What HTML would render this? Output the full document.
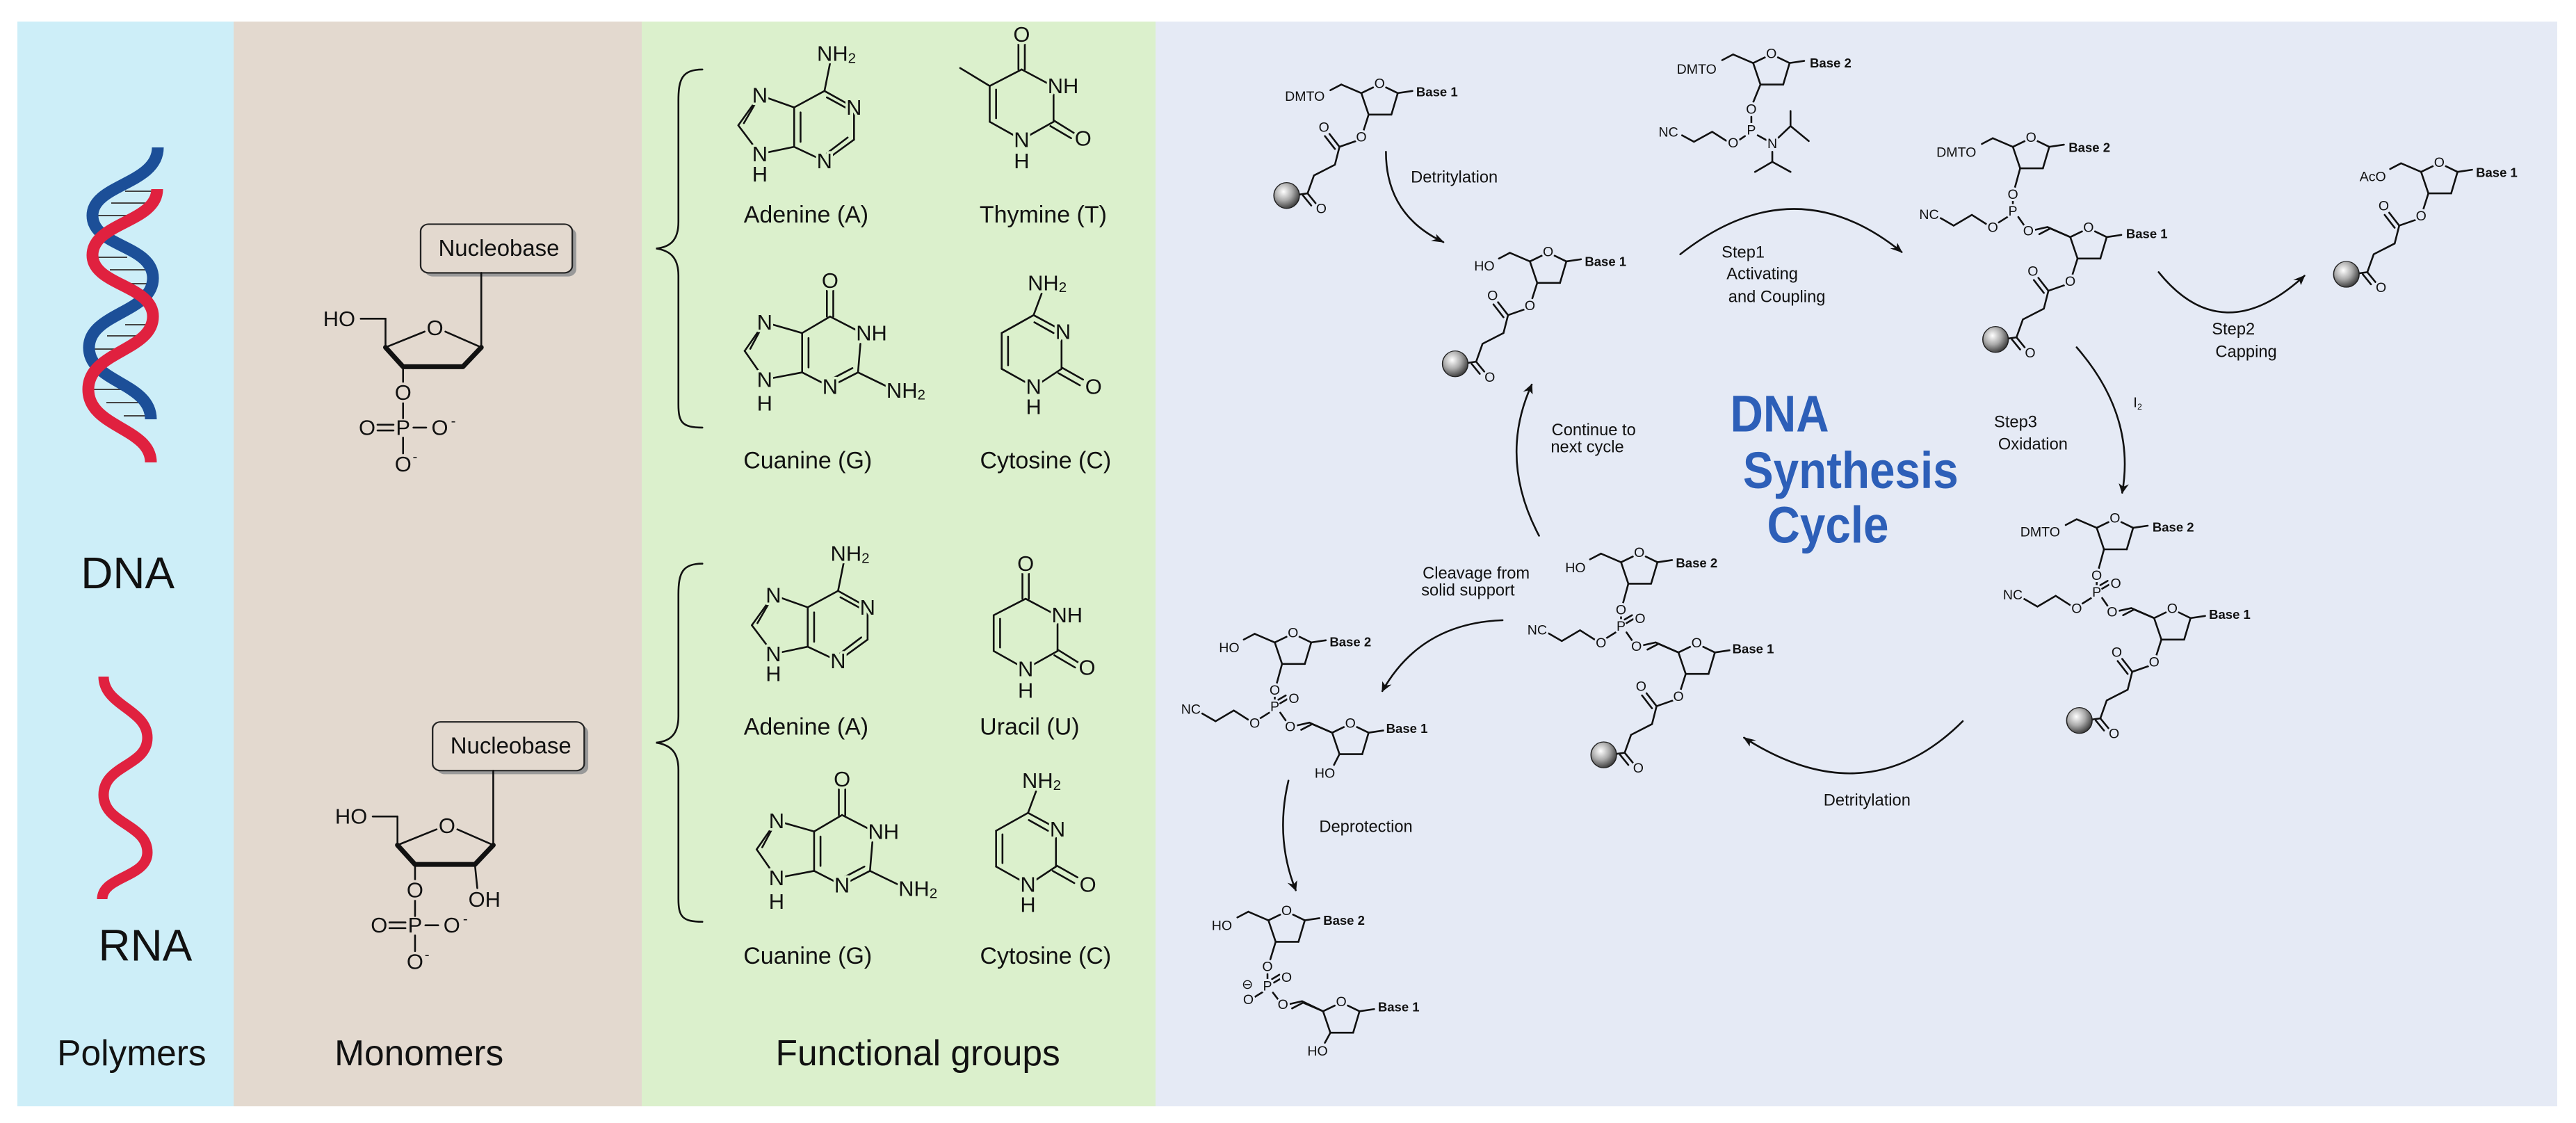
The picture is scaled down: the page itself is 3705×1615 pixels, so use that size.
<!DOCTYPE html>
<html><head><meta charset="utf-8"><style>
html,body{margin:0;padding:0;background:#fff;}
svg{display:block;}
.b line,.b path,.b polyline{stroke:#111;fill:none;vector-effect:non-scaling-stroke;stroke-width:2.6;stroke-linecap:round;}
text{font-family:"Liberation Sans",sans-serif;fill:#111;dominant-baseline:central;text-anchor:middle;}
.L{transform-box:fill-box;transform-origin:center;transform:scaleX(.897);}
.R{transform-box:fill-box;transform-origin:center;transform:scaleX(.786);}
.T{transform-box:fill-box;transform-origin:center;transform:scaleX(.695);}
.hg{paint-order:stroke;stroke:#dbf0cc;stroke-width:7;stroke-linejoin:round;}
.ht{paint-order:stroke;stroke:#e3d9cf;stroke-width:7;stroke-linejoin:round;}
.hr{paint-order:stroke;stroke:#e5eaf5;stroke-width:6;stroke-linejoin:round;}
.bb{font-weight:bold;}
</style></head><body>
<svg width="3705" height="1615" viewBox="0 0 3705 1615" xmlns="http://www.w3.org/2000/svg">
<defs>
<radialGradient id="bead" cx="0.38" cy="0.35" r="0.7"><stop offset="0" stop-color="#fff"/><stop offset="0.5" stop-color="#aaa"/><stop offset="1" stop-color="#333"/></radialGradient>
<marker id="ah" viewBox="0 0 10 10" refX="9" refY="5" markerWidth="14" markerHeight="14" markerUnits="userSpaceOnUse" orient="auto"><path d="M0 1 L10 5 L0 9 L3 5 Z" fill="#111"/></marker>
</defs>
<rect x="25" y="31" width="311" height="1560" fill="#cdeef8"/>
<rect x="336" y="31" width="587" height="1560" fill="#e3d9cf"/>
<rect x="923" y="31" width="739" height="1560" fill="#dbf0cc"/>
<rect x="1662" y="31" width="2016" height="1560" fill="#e5eaf5"/>

<!-- DNA helix -->
<g stroke="#444" stroke-width="2">
<line x1="180" y1="275" x2="224" y2="275"/><line x1="160" y1="292" x2="210" y2="292"/><line x1="138" y1="310" x2="190" y2="310"/>
<line x1="137" y1="370" x2="183" y2="370"/><line x1="158" y1="388" x2="210" y2="388"/><line x1="180" y1="408" x2="220" y2="408"/>
<line x1="180" y1="467" x2="219" y2="467"/><line x1="154" y1="483" x2="207" y2="483"/><line x1="133" y1="502" x2="185" y2="502"/>
<line x1="133" y1="560" x2="181" y2="560"/><line x1="153" y1="579" x2="203" y2="579"/><line x1="178" y1="598" x2="217" y2="598"/>
</g>
<path d="M227 212 C227 265,133 265,133 310 C133 355,220 352,220 400 C220 450,128 450,128 500 C128 550,217 550,217 603" stroke="#1c4f98" stroke-width="17" fill="none"/>
<path d="M226 272 C226 320,133 320,133 367 C133 410,220 410,220 455 C220 505,127 505,127 560 C127 615,217 615,217 665" stroke="#e0213f" stroke-width="17" fill="none"/>
<path d="M149 973 C149 1015,212 1020,212 1061 C212 1102,149 1100,149 1143 C149 1185,212 1185,212 1226 C212 1262,147 1260,147 1293" stroke="#e0213f" stroke-width="15" fill="none"/>

<!-- LEFT PANELS -->
<svg x="0" y="0" width="1800" height="1615" viewBox="0 0 1568 1568" preserveAspectRatio="none" class="b">
<text class="L" x="160" y="800" font-size="62">DNA</text>
<text class="L" x="182" y="1320" font-size="62">RNA</text>
<text class="L" x="165" y="1470" font-size="50">Polymers</text>
<text class="L" x="525" y="1470" font-size="50">Monomers</text>
<text class="L" x="1150" y="1470" font-size="50">Functional groups</text>

<g id="mono">
<rect x="532" y="318" width="190" height="68" rx="10" fill="#999"/>
<rect x="527" y="313" width="190" height="68" rx="10" fill="#e3d9cf" stroke="#222" stroke-width="2"/>
<line x1="452" y1="445" x2="483" y2="445"/><line x1="483" y1="445" x2="483" y2="485"/>
<line x1="483" y1="485" x2="532" y2="463"/><line x1="558" y1="463" x2="603" y2="485"/>
<line x1="603" y1="485" x2="603" y2="381"/>
<path d="M483 485 L505 512 L580 512 L603 485" style="stroke-width:7;stroke-linejoin:round"/>
<line x1="505" y1="514" x2="505" y2="535"/><line x1="505" y1="561" x2="505" y2="584"/>
<line x1="473" y1="593" x2="493" y2="593"/><line x1="473" y1="601" x2="493" y2="601"/>
<line x1="518" y1="597" x2="534" y2="597"/>
<line x1="505" y1="611" x2="505" y2="633"/>
<text class="L" x="625" y="346" font-size="32">Nucleobase</text>
<text class="L ht" x="425" y="445" font-size="30">HO</text>
<text class="L ht" x="545" y="458" font-size="30">O</text>
<text class="L ht" x="505" y="548" font-size="30">O</text>
<text class="L" x="460" y="597" font-size="30">O</text>
<text class="L" x="505" y="597" font-size="30">P</text>
<text class="L" x="551" y="597" font-size="30">O</text>
<text class="L" x="568" y="588" font-size="20">-</text>
<text class="L" x="505" y="648" font-size="30">O</text>
<text class="L" x="520" y="638" font-size="20">-</text>
</g>
<use href="#mono" x="15" y="695"/>
<line x1="595" y1="1207" x2="598" y2="1240"/>
<text class="L ht" x="607" y="1256" font-size="30">OH</text>

<path d="M880 97 C855 97,850 110,850 140 L850 310 C850 335,840 345,822 347 C840 350,850 360,850 385 L850 565 C850 590,855 597,880 597"/>
<path d="M880 787 C855 787,850 800,850 830 L850 1000 C850 1025,840 1035,822 1037 C840 1040,850 1050,850 1075 L850 1255 C850 1280,855 1287,880 1287"/>

<g id="ade">
<line x1="952" y1="133" x2="925" y2="175"/><line x1="946" y1="145" x2="932" y2="172"/>
<line x1="925" y1="175" x2="952" y2="215"/><line x1="952" y1="215" x2="995" y2="205"/>
<line x1="995" y1="205" x2="995" y2="150"/><line x1="1003" y1="198" x2="1003" y2="157"/>
<line x1="995" y1="150" x2="952" y2="133"/><line x1="995" y1="150" x2="1033" y2="127"/>
<line x1="1033" y1="127" x2="1040" y2="88"/>
<line x1="1033" y1="127" x2="1070" y2="150"/><line x1="1036" y1="136" x2="1064" y2="153"/>
<line x1="1070" y1="150" x2="1070" y2="195"/>
<line x1="1070" y1="195" x2="1033" y2="225"/><line x1="1062" y1="192" x2="1036" y2="214"/>
<line x1="1033" y1="225" x2="995" y2="205"/>
<text class="L hg" x="1048" y="75" font-size="30">NH<tspan font-size="20" dy="6">2</tspan></text>
<text class="L hg" x="952" y="133" font-size="30">N</text>
<text class="L hg" x="952" y="215" font-size="30">N</text>
<text class="L hg" x="952" y="243" font-size="30">H</text>
<text class="L hg" x="1070" y="150" font-size="30">N</text>
<text class="L hg" x="1033" y="225" font-size="30">N</text>
</g>
<use href="#ade" x="17" y="698"/>
<text class="L" x="1010" y="300" font-size="33">Adenine (A)</text>
<text class="L" x="1010" y="1015" font-size="33">Adenine (A)</text>

<g id="gua">
<line x1="958" y1="450" x2="933" y2="490"/><line x1="952" y1="462" x2="940" y2="487"/>
<line x1="933" y1="490" x2="958" y2="530"/><line x1="958" y1="530" x2="1005" y2="520"/>
<line x1="1005" y1="520" x2="1005" y2="465"/><line x1="1013" y1="513" x2="1013" y2="472"/>
<line x1="1005" y1="465" x2="958" y2="450"/><line x1="1005" y1="465" x2="1040" y2="442"/>
<line x1="1036" y1="442" x2="1036" y2="405"/><line x1="1044" y1="442" x2="1044" y2="405"/>
<line x1="1040" y1="442" x2="1080" y2="465"/>
<line x1="1078" y1="480" x2="1075" y2="520"/>
<line x1="1075" y1="520" x2="1040" y2="540"/><line x1="1068" y1="514" x2="1044" y2="528"/>
<line x1="1040" y1="540" x2="1005" y2="520"/>
<line x1="1075" y1="520" x2="1112" y2="540"/>
<text class="L hg" x="1040" y="392" font-size="30">O</text>
<text class="L hg" x="958" y="450" font-size="30">N</text>
<text class="L hg" x="958" y="530" font-size="30">N</text>
<text class="L hg" x="958" y="563" font-size="30">H</text>
<text class="L hg" x="1092" y="465" font-size="30">NH</text>
<text class="L hg" x="1040" y="540" font-size="30">N</text>
<text class="L hg" x="1135" y="545" font-size="30">NH<tspan font-size="20" dy="6">2</tspan></text>
</g>
<use href="#gua" x="15" y="696"/>
<text class="L" x="1012" y="643" font-size="33">Cuanine (G)</text>
<text class="L" x="1012" y="1335" font-size="33">Cuanine (G)</text>

<g id="pyr">
<line x1="1276" y1="97" x2="1276" y2="62"/><line x1="1284" y1="97" x2="1284" y2="62"/>
<line x1="1280" y1="97" x2="1312" y2="116"/>
<line x1="1320" y1="132" x2="1320" y2="170"/>
<line x1="1320" y1="168" x2="1346" y2="186"/><line x1="1316" y1="176" x2="1342" y2="193"/>
<line x1="1320" y1="170" x2="1288" y2="190"/>
<line x1="1272" y1="190" x2="1240" y2="170"/>
<line x1="1240" y1="170" x2="1240" y2="120"/><line x1="1248" y1="165" x2="1248" y2="125"/>
<line x1="1240" y1="120" x2="1280" y2="97"/>
<text class="L hg" x="1280" y="48" font-size="30">O</text>
<text class="L hg" x="1332" y="120" font-size="30">NH</text>
<text class="L hg" x="1357" y="193" font-size="30">O</text>
<text class="L hg" x="1280" y="195" font-size="30">N</text>
<text class="L hg" x="1280" y="225" font-size="30">H</text>
</g>
<line x1="1240" y1="120" x2="1203" y2="95"/>
<use href="#pyr" x="5" y="739"/>
<text class="L" x="1307" y="300" font-size="33">Thymine (T)</text>
<text class="L" x="1290" y="1015" font-size="33">Uracil (U)</text>

<g id="cyt">
<line x1="1295" y1="440" x2="1305" y2="410"/>
<line x1="1295" y1="440" x2="1325" y2="458"/><line x1="1296" y1="450" x2="1320" y2="465"/>
<line x1="1330" y1="475" x2="1330" y2="515"/>
<line x1="1330" y1="513" x2="1357" y2="530"/><line x1="1326" y1="521" x2="1353" y2="538"/>
<line x1="1330" y1="515" x2="1303" y2="535"/>
<line x1="1287" y1="535" x2="1255" y2="515"/>
<line x1="1255" y1="515" x2="1255" y2="465"/><line x1="1263" y1="510" x2="1263" y2="470"/>
<line x1="1255" y1="465" x2="1295" y2="440"/>
<text class="L hg" x="1312" y="395" font-size="30">NH<tspan font-size="20" dy="6">2</tspan></text>
<text class="L hg" x="1332" y="463" font-size="30">N</text>
<text class="L hg" x="1370" y="540" font-size="30">O</text>
<text class="L hg" x="1295" y="540" font-size="30">N</text>
<text class="L hg" x="1295" y="568" font-size="30">H</text>
</g>
<use href="#cyt" x="-7" y="695"/>
<text class="L" x="1310" y="643" font-size="33">Cytosine (C)</text>
<text class="L" x="1310" y="1335" font-size="33">Cytosine (C)</text>
</svg>

<!-- RIGHT PANEL -->
<svg x="1650" y="0" width="2055" height="1615" viewBox="0 0 1568 1568" preserveAspectRatio="none" class="b">
<defs>
<g id="ring">
<line x1="0" y1="0" x2="13" y2="-8"/><line x1="27" y1="-8" x2="40" y2="0"/>
<line x1="40" y1="0" x2="33" y2="30"/><line x1="33" y1="30" x2="8" y2="30"/><line x1="8" y1="30" x2="0" y2="0"/>
<line x1="0" y1="0" x2="-22" y2="-12"/><line x1="-22" y1="-12" x2="-34" y2="-4"/>
<line x1="40" y1="0" x2="56" y2="-3"/>
<text class="R hr" x="20" y="-13" font-size="19">O</text>
</g>
<g id="ester">
<line x1="0" y1="0" x2="-6" y2="24"/>
<line x1="-14" y1="37" x2="-32" y2="45"/>
<line x1="-32" y1="45" x2="-43" y2="27"/><line x1="-37" y1="48" x2="-48" y2="30"/>
<polyline points="-32,45 -37,70 -60,85 -67,110"/>
<line x1="-67" y1="110" x2="-58" y2="124"/><line x1="-72" y1="113" x2="-63" y2="127"/>
<line x1="-67" y1="110" x2="-78" y2="112"/>
<ellipse cx="-90" cy="113" rx="14" ry="18" fill="url(#bead)" stroke="#222" stroke-width="1.2"/>
<text class="R hr" x="-8" y="32" font-size="19">O</text>
<text class="R hr" x="-49" y="18" font-size="19">O</text>
<text class="R hr" x="-52" y="132" font-size="19">O</text>
</g>
<g id="phos">
<line x1="0" y1="0" x2="-6" y2="28"/>
<line x1="-8" y1="46" x2="-8" y2="52"/>
<line x1="-14" y1="68" x2="-24" y2="76"/>
<line x1="-2" y1="68" x2="4" y2="79"/>
<polyline points="-37,78 -53,65 -73,80 -88,69"/>
<polyline points="16,86 30,82 55,96"/>
<text class="R hr" x="-8" y="37" font-size="19">O</text>
<text class="R hr" x="-8" y="60" font-size="19">P</text>
<text class="R hr" x="-30" y="83" font-size="19">O</text>
<text class="R hr" x="9" y="88" font-size="19">O</text>
</g>
</defs>

<use href="#ring" x="235" y="130"/>
<use href="#ester" x="243" y="160"/>
<text class="R hr" x="173" y="135" font-size="19">DMTO</text>
<text class="R bb" x="318" y="128" font-size="18">Base 1</text>
<use href="#ring" x="420" y="365"/>
<use href="#ester" x="428" y="395"/>
<text class="R hr" x="370" y="372" font-size="19">HO</text>
<text class="R bb" x="503" y="365" font-size="18">Base 1</text>
<use href="#ring" x="665" y="88"/>
<text class="R hr" x="603" y="97" font-size="19">DMTO</text>
<text class="R bb" x="750" y="88" font-size="18">Base 2</text>
<line x1="673" y1="118" x2="665" y2="143"/>
<line x1="663" y1="163" x2="663" y2="173"/>
<line x1="670" y1="189" x2="680" y2="196"/>
<polyline points="692,193 706,176 706,155"/><line x1="706" y1="176" x2="726" y2="197"/>
<polyline points="686,212 686,226 667,240"/><line x1="686" y1="226" x2="706" y2="240"/>
<line x1="656" y1="190" x2="649" y2="196"/>
<polyline points="636,197 620,184 600,198 587,189"/>
<text class="R hr" x="663" y="153" font-size="19">O</text>
<text class="R hr" x="663" y="182" font-size="19">P</text>
<text class="R hr" x="686" y="201" font-size="19">N</text>
<text class="R hr" x="643" y="200" font-size="19">O</text>
<text class="R hr" x="572" y="185" font-size="19">NC</text>
<use href="#ring" x="950" y="205"/>
<use href="#phos" x="958" y="235"/>
<use href="#ring" x="1013" y="331"/>
<use href="#ester" x="1021" y="361"/>
<text class="R hr" x="888" y="213" font-size="19">DMTO</text>
<text class="R bb" x="1034" y="206" font-size="18">Base 2</text>
<text class="R bb" x="1097" y="326" font-size="18">Base 1</text>
<text class="R hr" x="858" y="300" font-size="19">NC</text>
<use href="#ring" x="1398" y="240"/>
<use href="#ester" x="1406" y="270"/>
<text class="R hr" x="1345" y="247" font-size="19">AcO</text>
<text class="R bb" x="1481" y="241" font-size="18">Base 1</text>
<use href="#ring" x="1042" y="737"/>
<use href="#phos" x="1050" y="767"/>
<line x1="1048" y1="822" x2="1056" y2="816"/><line x1="1046" y1="817" x2="1054" y2="811"/>
<text class="R hr" x="1063" y="815" font-size="19">O</text>
<use href="#ring" x="1105" y="863"/>
<use href="#ester" x="1113" y="893"/>
<text class="R hr" x="980" y="743" font-size="19">DMTO</text>
<text class="R bb" x="1126" y="736" font-size="18">Base 2</text>
<text class="R bb" x="1188" y="858" font-size="18">Base 1</text>
<text class="R hr" x="950" y="831" font-size="19">NC</text>
<use href="#ring" x="520" y="785"/>
<use href="#phos" x="528" y="815"/>
<line x1="526" y1="870" x2="534" y2="864"/><line x1="524" y1="865" x2="532" y2="859"/>
<text class="R hr" x="541" y="864" font-size="19">O</text>
<use href="#ring" x="583" y="911"/>
<use href="#ester" x="591" y="941"/>
<text class="R hr" x="470" y="793" font-size="19">HO</text>
<text class="R bb" x="603" y="786" font-size="18">Base 2</text>
<text class="R bb" x="665" y="906" font-size="18">Base 1</text>
<text class="R hr" x="428" y="880" font-size="19">NC</text>
<use href="#ring" x="140" y="897"/>
<use href="#phos" x="148" y="927"/>
<line x1="146" y1="982" x2="154" y2="976"/><line x1="144" y1="977" x2="152" y2="971"/>
<text class="R hr" x="161" y="976" font-size="19">O</text>
<use href="#ring" x="203" y="1023"/>
<line x1="211" y1="1053" x2="205" y2="1068"/>
<text class="R hr" x="90" y="905" font-size="19">HO</text>
<text class="R hr" x="195" y="1080" font-size="19">HO</text>
<text class="R bb" x="223" y="896" font-size="18">Base 2</text>
<text class="R bb" x="285" y="1017" font-size="18">Base 1</text>
<text class="R hr" x="48" y="991" font-size="19">NC</text>
<use href="#ring" x="133" y="1285"/>
<line x1="141" y1="1315" x2="135" y2="1340"/>
<line x1="132" y1="1360" x2="132" y2="1368"/>
<line x1="127" y1="1385" x2="118" y2="1392"/>
<line x1="138" y1="1386" x2="144" y2="1396"/>
<polyline points="156,1402 170,1398 193,1412"/>
<line x1="139" y1="1372" x2="147" y2="1366"/><line x1="137" y1="1367" x2="145" y2="1361"/>
<use href="#ring" x="193" y="1412"/>
<line x1="201" y1="1442" x2="195" y2="1456"/>
<text class="R hr" x="132" y="1350" font-size="19">O</text>
<text class="R hr" x="132" y="1377" font-size="19">P</text>
<text class="R hr" x="153" y="1365" font-size="19">O</text>
<text class="R hr" x="111" y="1396" font-size="19">O</text>
<text class="R hr" x="110" y="1375" font-size="19">⊖</text>
<text class="R hr" x="149" y="1403" font-size="19">O</text>
<text class="R hr" x="82" y="1293" font-size="19">HO</text>
<text class="R hr" x="187" y="1468" font-size="19">HO</text>
<text class="R bb" x="216" y="1285" font-size="18">Base 2</text>
<text class="R bb" x="276" y="1406" font-size="18">Base 1</text>

<g marker-end="url(#ah)">
<path d="M262 212 Q262 300 325 338"/>
<path d="M585 355 Q710 230 828 352"/>
<path d="M1110 380 Q1180 490 1270 385"/>
<path d="M1020 485 Q1085 580 1070 688"/>
<path d="M895 1007 Q790 1140 655 1030"/>
<path d="M430 748 Q385 640 422 537"/>
<path d="M390 866 Q300 870 258 965"/>
<path d="M155 1090 Q140 1170 163 1243"/>
</g>

<text class="R" x="337" y="248" font-size="23">Detritylation</text>
<text class="R" x="654" y="353" font-size="23">Step1</text>
<text class="R" x="675" y="383" font-size="23">Activating</text>
<text class="R" x="691" y="415" font-size="23">and Coupling</text>
<text class="R" x="1192" y="460" font-size="23">Step2</text>
<text class="R" x="1206" y="492" font-size="23">Capping</text>
<text class="R" x="1087" y="562" font-size="20">I<tspan font-size="12" dy="6">2</tspan></text>
<text class="R" x="953" y="590" font-size="23">Step3</text>
<text class="R" x="972" y="621" font-size="23">Oxidation</text>
<text class="R" x="490" y="601" font-size="23">Continue to</text>
<text class="R" x="483" y="625" font-size="23">next cycle</text>
<text class="R" x="361" y="801" font-size="23">Cleavage from</text>
<text class="R" x="352" y="825" font-size="23">solid support</text>
<text class="R" x="790" y="1118" font-size="23">Detritylation</text>
<text class="R" x="240" y="1155" font-size="23">Deprotection</text>
<text class="T" x="694" y="578" font-size="72" style="fill:#2d5fb8;font-weight:bold">DNA</text>
<text class="T" x="772" y="657" font-size="72" style="fill:#2d5fb8;font-weight:bold">Synthesis</text>
<text class="T" x="747" y="733" font-size="72" style="fill:#2d5fb8;font-weight:bold">Cycle</text>
</svg>
</svg>
</body></html>
